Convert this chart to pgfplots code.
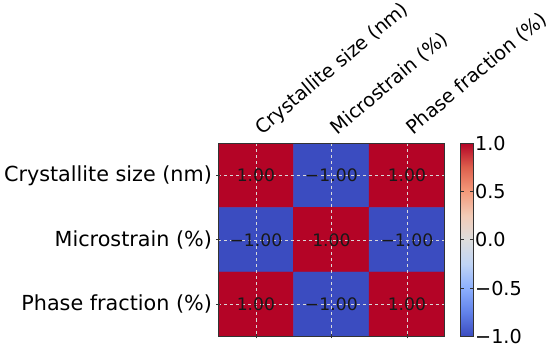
\documentclass[border=0pt]{standalone}
\usepackage{pgfplots}
\pgfplotsset{compat=1.18}
\usepackage{fontspec}
\setmainfont{DejaVu Sans}
\newcommand\lfL{\fontsize{20.5bp}{24bp}\selectfont}
\newcommand\lfC{\fontsize{19bp}{22bp}\selectfont}
\newcommand\lfN{\fontsize{17bp}{20bp}\selectfont}
\newcommand\lfT{\fontsize{19bp}{23bp}\selectfont}
\pgfplotsset{colormap={coolwarm}{rgb255=(59,76,192) rgb255=(98,130,234) rgb255=(141,176,254) rgb255=(192,212,245) rgb255=(221,221,221) rgb255=(242,203,183) rgb255=(244,154,123) rgb255=(222,96,77) rgb255=(180,4,38)}}
\pgfplotstableread{
x y c lab
0 0 1 1.00
1 0 -1 −1.00
2 0 1 1.00
0 1 -1 −1.00
1 1 1 1.00
2 1 -1 −1.00
0 2 1 1.00
1 2 -1 −1.00
2 2 1 1.00
}\corr
\begin{document}
\begin{tikzpicture}
\begin{axis}[
  scale only axis,
  width=224bp, height=191bp,
  xmin=-0.5, xmax=2.5, ymin=-0.5, ymax=2.5,
  y dir=reverse,
  enlargelimits=false,
  axis on top,
  colormap name=coolwarm,
  point meta min=-1, point meta max=1,
  xtick={0,1,2}, ytick={0,1,2},
  xticklabels={Crystallite size (nm),Microstrain (\%),Phase fraction (\%)},
  yticklabels={Crystallite size (nm),Microstrain (\%),Phase fraction (\%)},
  xtick pos=bottom, xticklabel pos=top,
  ytick pos=left,
  tick align=center,
  major tick length=4bp,
  tick style={black!80, line width=0.6pt},
  axis line style={black!80, line width=0.6pt},
  x tick label style={font=\lfT, xshift=6bp, yshift=6bp, rotate=40, anchor=base west, inner sep=0pt},
  y tick label style={font=\lfL, inner xsep=4bp},
  grid=major,
  grid style={dashed, white!70!gray, line width=0.5pt},
  colorbar,
  colorbar style={
    width=12bp,
    at={(parent axis.north east)}, anchor=north west, xshift=7.5bp,
    ytick={-1,-0.5,0,0.5,1},
    yticklabels={−1.0,−0.5,0.0,0.5,1.0},
    y tick label style={font=\lfC, inner xsep=2bp},
    tick align=inside,
    major tick length=3bp,
    tick style={black!80, line width=0.6pt},
    axis line style={black!80, line width=0.8pt},
    grid=none,
  },
]
\addplot[matrix plot*, mesh/cols=3, point meta=explicit] table[x=x, y=y, meta=c] {\corr};
\addplot[only marks, mark=none, point meta=explicit symbolic,
  nodes near coords, nodes near coords align={center},
  every node near coord/.append style={font=\lfN, black!90, anchor=center}]
  table[x=x, y=y, meta=lab] {\corr};
\end{axis}
\end{tikzpicture}
\end{document}
